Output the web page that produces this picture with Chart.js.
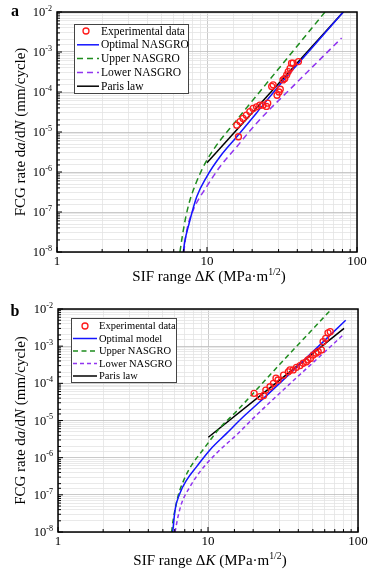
<!DOCTYPE html>
<html>
<head>
<meta charset="utf-8">
<script src="https://cdn.jsdelivr.net/npm/chart.js@4"></script>
<style>
  body { margin: 0; background: #fff; }
  .panel { position: absolute; left: 0; }
</style>
</head>
<body>
<div class="panel" style="top:0"><canvas id="chartA" width="375" height="285"></canvas></div>
<div class="panel" style="top:285px"><canvas id="chartB" width="375" height="285"></canvas></div>
<script>
// tick labels
const xTickVals = [1, 10, 100];
const yTickExps = [-8, -7, -6, -5, -4, -3, -2];

// panel a
const aLabels = ["Experimental data", "Optimal NASGRO", "Upper NASGRO", "Lower NASGRO", "Paris law"];
const aExpK = [15.8, 16.2, 16.6, 17.4, 18.3, 19.3, 20.3, 21.4, 22.5, 23.6, 24.9, 25.4, 27.0, 27.6, 29.3, 30.2, 30.8, 32.1, 33.0, 34.0, 34.8, 35.8, 36.6, 37.5, 40.7];
const aExpRate = [1.48e-5, 7.6e-6, 1.82e-5, 2.19e-5, 2.63e-5, 3.24e-5, 3.89e-5, 4.27e-5, 4.68e-5, 4.68e-5, 4.37e-5, 5.25e-5, 1.38e-4, 1.51e-4, 8.3e-5, 1.0e-4, 1.17e-4, 2.0e-4, 2.19e-4, 2.69e-4, 3.24e-4, 3.89e-4, 5.25e-4, 5.25e-4, 5.75e-4];
const aOptK = [6.95, 7.14, 7.5, 8.54, 9.95, 12.2, 15.8, 21.4, 30, 50, 81];
const aOptRate = [1.0e-8, 2.0e-8, 4.3e-8, 2.4e-7, 7.6e-7, 2.4e-6, 7.6e-6, 3.0e-5, 1.4e-4, 1.26e-3, 1.0e-2];
const aUpK = [6.6, 6.85, 7.2, 7.7, 8.4, 9.45, 11.0, 15.8, 30, 61.2];
const aUpRate = [1.0e-8, 2.5e-8, 7.1e-8, 2.0e-7, 5.0e-7, 1.35e-6, 3.55e-6, 2.0e-5, 3.8e-4, 1.0e-2];
const aLowK = [7.0, 7.3, 8.1, 9.95, 12.2, 15.8, 21.4, 40, 79];
const aLowRate = [1.0e-8, 3.2e-8, 1.12e-7, 4.3e-7, 1.35e-6, 4.3e-6, 1.66e-5, 1.78e-4, 2.24e-3];
const aParisK = [10, 81];
const aParisRate = [1.7e-6, 1.0e-2];

// panel b
const bLabels = ["Experimental data", "Optimal model", "Upper NASGRO", "Lower NASGRO", "Paris law"];
const bExpK = [20.3, 22.2, 23.5, 24.3, 25.9, 27.3, 28.4, 29.3, 31.9, 34.3, 35.2, 37.0, 38.9, 41.1, 43.1, 45.3, 46.4, 48.2, 50.3, 52.4, 54.3, 57.0, 58.5, 60.9, 63.1, 65.3];
const bExpRate = [5.4e-5, 4.4e-5, 4.7e-5, 6.6e-5, 8.1e-5, 1.0e-4, 1.38e-4, 1.23e-4, 1.66e-4, 2.04e-4, 2.29e-4, 2.29e-4, 2.69e-4, 3.0e-4, 3.47e-4, 3.8e-4, 4.27e-4, 4.68e-4, 5.75e-4, 6.46e-4, 7.1e-4, 7.9e-4, 1.32e-3, 1.62e-3, 2.29e-3, 2.45e-3];
const bOptK = [5.82, 6.03, 6.5, 7.2, 8.4, 10.3, 13.3, 17.2, 21.6, 40, 82.8];
const bOptRate = [1.0e-8, 3.9e-8, 1.1e-7, 2.5e-7, 5.75e-7, 1.62e-6, 4.5e-6, 1.26e-5, 2.9e-5, 3.0e-4, 5.0e-3];
const bUpK = [5.72, 5.87, 6.3, 6.9, 7.78, 9.3, 11.7, 15.5, 30, 66.7];
const bUpRate = [1.0e-8, 2.2e-8, 8.9e-8, 2.5e-7, 6.3e-7, 1.66e-6, 5.6e-6, 1.78e-5, 3.2e-4, 1.0e-2];
const bLowK = [6.03, 6.3, 6.67, 7.59, 8.85, 11.4, 15.5, 21.1, 80.7];
const bLowRate = [1.0e-8, 2.5e-8, 5.9e-8, 1.66e-7, 4.2e-7, 1.32e-6, 4.1e-6, 1.41e-5, 2.1e-3];
const bParisK = [10.05, 80.7];
const bParisRate = [3.55e-6, 3.0e-3];

const SERIF = '"Liberation Serif", "Times New Roman", serif';
Chart.defaults.font.family = SERIF;

function isDecade(v) {
    const l = Math.log10(v);
    return Math.abs(l - Math.round(l)) < 1e-6;
}

function pts(xs, ys) {
    return xs.map((x, i) => ({ x: x, y: ys[i] }));
}

function fontFor(p, size) {
    return (p.b ? "bold " : "") + (p.i ? "italic " : "") + (p.sup ? size * 0.65 : size) + "px " + SERIF;
}

// draws text with italic / superscript parts, centred on cx
function drawRich(ctx, parts, cx, baseY, size, align) {
    let w = 0;
    parts.forEach(p => { ctx.font = fontFor(p, size); w += ctx.measureText(p.t).width; });
    let x = align === "right" ? cx - w : cx - w / 2;
    ctx.textAlign = "left";
    ctx.textBaseline = "alphabetic";
    parts.forEach(p => {
        ctx.font = fontFor(p, size);
        ctx.fillText(p.t, x, baseY - (p.sup ? size * 0.42 : 0));
        x += ctx.measureText(p.t).width;
    });
}

const xTitle = [{ t: "SIF range \u0394" }, { t: "K", i: true }, { t: " (MPa\u00b7m" }, { t: "1/2", sup: true }, { t: ")" }];
const yTitle = [{ t: "FCG rate d" }, { t: "a", i: true }, { t: "/d" }, { t: "N", i: true }, { t: " (mm/cycle)" }];

const decor = {
    id: "decor",
    afterDraw(chart, args, o) {
        const ctx = chart.ctx, a = chart.chartArea;
        const xs = chart.scales.x, ys = chart.scales.y;
        ctx.save();
        ctx.fillStyle = "#000";
        ctx.strokeStyle = "#000";
        ctx.lineWidth = 1;
        ctx.setLineDash([]);

        // inward ticks
        xs.ticks.forEach(t => {
            const px = xs.getPixelForValue(t.value);
            ctx.beginPath();
            ctx.moveTo(px, a.bottom);
            ctx.lineTo(px, a.bottom - (isDecade(t.value) ? 5 : 3));
            ctx.stroke();
        });
        ys.ticks.forEach(t => {
            const py = ys.getPixelForValue(t.value);
            ctx.beginPath();
            ctx.moveTo(a.left, py);
            ctx.lineTo(a.left + (isDecade(t.value) ? 5 : 3), py);
            ctx.stroke();
        });

        // legend box
        const L = o.legend;
        ctx.fillStyle = "#fff";
        ctx.fillRect(L.x, L.y, L.w, L.h);
        ctx.strokeStyle = "#444";
        ctx.strokeRect(L.x + 0.5, L.y + 0.5, L.w, L.h);
        chart.data.datasets.forEach((ds, i) => {
            const y = L.y + L.first + i * L.gap;
            if (ds.showLine === false) {
                ctx.setLineDash([]);
                ctx.strokeStyle = ds.borderColor;
                ctx.lineWidth = ds.borderWidth;
                ctx.beginPath();
                ctx.arc(L.cx, y, ds.pointRadius, 0, Math.PI * 2);
                ctx.stroke();
            } else {
                ctx.setLineDash(ds.borderDash || []);
                ctx.strokeStyle = ds.borderColor;
                ctx.lineWidth = ds.borderWidth;
                ctx.beginPath();
                ctx.moveTo(L.x0, y);
                ctx.lineTo(L.x1, y);
                ctx.stroke();
            }
            ctx.setLineDash([]);
            ctx.fillStyle = "#000";
            ctx.font = L.font + "px " + SERIF;
            ctx.textAlign = "left";
            ctx.textBaseline = "middle";
            ctx.fillText(ds.label, L.tx, y + 0.5);
        });

        // frame
        ctx.strokeStyle = "#000";
        ctx.lineWidth = 1.5;
        ctx.strokeRect(a.left, a.top, a.right - a.left, a.bottom - a.top);

        // tick labels
        ctx.fillStyle = "#000";
        yTickExps.forEach(e => {
            const py = ys.getPixelForValue(Math.pow(10, e));
            drawRich(ctx, [{ t: "10" }, { t: String(e), sup: true }], a.left - 5, py + 4, 12.5, "right");
        });
        xTickVals.forEach(v => {
            const px = xs.getPixelForValue(v);
            ctx.font = "13px " + SERIF;
            ctx.textAlign = "center";
            ctx.textBaseline = "middle";
            ctx.fillText(String(v), px, a.bottom + 10);
        });

        // axis titles
        drawRich(ctx, xTitle, (a.left + a.right) / 2 + 2, o.xTitleY, 15);
        ctx.save();
        ctx.translate(o.yTitleX, (a.top + a.bottom) / 2);
        ctx.rotate(-Math.PI / 2);
        drawRich(ctx, yTitle, 0, 0, 15);
        ctx.restore();

        // panel letter
        ctx.font = "bold 16px " + SERIF;
        ctx.textAlign = "center";
        ctx.textBaseline = "middle";
        ctx.fillText(o.letter, 15, o.letterY);
        ctx.restore();
    }
};

function makeChart(id, p) {
    const lineDs = (label, xs, ys, color, dash) => ({
        label: label,
        data: pts(xs, ys),
        borderColor: color,
        borderWidth: 1.5,
        borderDash: dash,
        pointRadius: 0,
        fill: false,
        cubicInterpolationMode: "monotone"
    });
    return new Chart(document.getElementById(id), {
        type: "line",
        data: {
            datasets: [
                {
                    label: p.labels[0],
                    data: pts(p.exp[0], p.exp[1]),
                    showLine: false,
                    borderColor: "#ff1a1a",
                    backgroundColor: "rgba(0,0,0,0)",
                    borderWidth: 1.3,
                    pointRadius: 3,
                    pointStyle: "circle"
                },
                lineDs(p.labels[1], p.opt[0], p.opt[1], "#1414ff", []),
                lineDs(p.labels[2], p.up[0], p.up[1], "#1e8c1e", p.upDash),
                lineDs(p.labels[3], p.low[0], p.low[1], "#9135f0", p.lowDash),
                lineDs(p.labels[4], p.paris[0], p.paris[1], "#000000", [])
            ]
        },
        options: {
            responsive: false,
            devicePixelRatio: 1,
            animation: false,
            layout: { padding: p.pad },
            plugins: {
                legend: { display: false },
                tooltip: { enabled: false },
                decor: p.decor
            },
            scales: {
                x: {
                    type: "logarithmic",
                    min: 1,
                    max: 100,
                    ticks: { display: false, autoSkip: false },
                    grid: {
                        drawTicks: false,
                        lineWidth: 0.8,
                        color: c => (c.tick && isDecade(c.tick.value)) ? "#bdbdbd" : "#e3e3e3"
                    },
                    border: { display: false },
                    afterFit: s => { s.height = 0; }
                },
                y: {
                    type: "logarithmic",
                    min: 1e-8,
                    max: 1e-2,
                    ticks: { display: false, autoSkip: false },
                    grid: {
                        drawTicks: false,
                        lineWidth: 0.8,
                        color: c => (c.tick && isDecade(c.tick.value)) ? "#bdbdbd" : "#e3e3e3"
                    },
                    border: { display: false },
                    afterFit: s => { s.width = 0; }
                }
            }
        },
        plugins: [decor]
    });
}

makeChart("chartA", {
    labels: aLabels,
    exp: [aExpK, aExpRate],
    opt: [aOptK, aOptRate],
    up: [aUpK, aUpRate],
    low: [aLowK, aLowRate],
    paris: [aParisK, aParisRate],
    upDash: [6, 4],
    lowDash: [6, 4],
    pad: { left: 57, top: 12, right: 18, bottom: 33 },
    decor: {
        letter: "a", letterY: 12, xTitleY: 281, yTitleX: 25,
        legend: { x: 74, y: 24, w: 114, h: 69, first: 7, gap: 13.8, x0: 77, x1: 99, cx: 86, tx: 101, font: 11.5 }
    }
});

makeChart("chartB", {
    labels: bLabels,
    exp: [bExpK, bExpRate],
    opt: [bOptK, bOptRate],
    up: [bUpK, bUpRate],
    low: [bLowK, bLowRate],
    paris: [bParisK, bParisRate],
    upDash: [5, 3.5],
    lowDash: [4, 3],
    pad: { left: 58, top: 24, right: 17, bottom: 38 },
    decor: {
        letter: "b", letterY: 27, xTitleY: 280, yTitleX: 25,
        legend: { x: 71, y: 33, w: 105, h: 64, first: 8, gap: 12.5, x0: 73, x1: 97, cx: 85, tx: 99, font: 10.5 }
    }
});
</script>
</body>
</html>
